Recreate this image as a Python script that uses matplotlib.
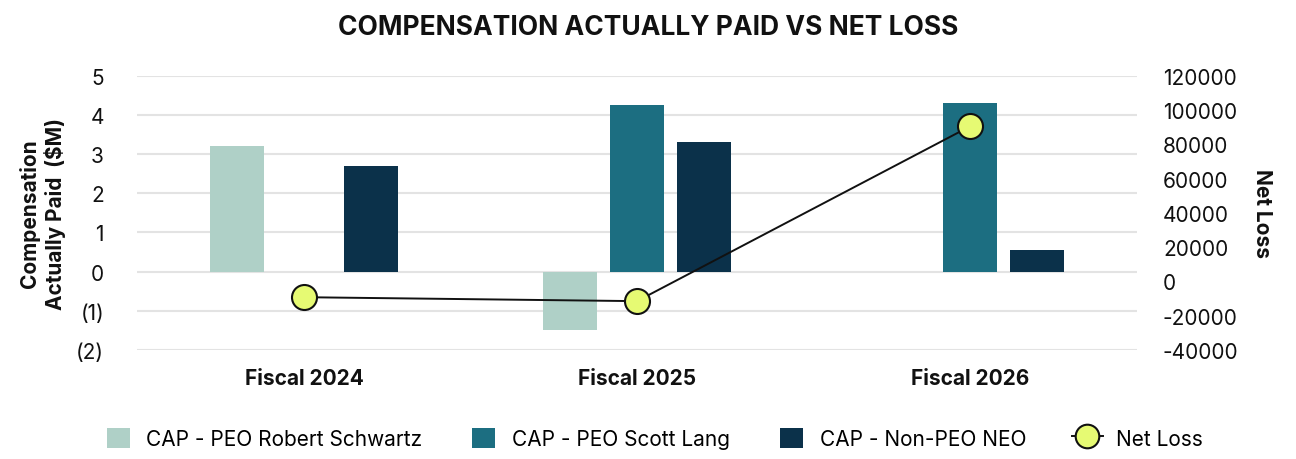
import numpy as np
import matplotlib.pyplot as plt
from matplotlib.ticker import FixedLocator, FuncFormatter
from matplotlib.legend_handler import HandlerLine2D
from matplotlib.lines import Line2D

plt.rcParams['font.family'] = ['Inter', 'DejaVu Sans']
plt.rcParams['axes.unicode_minus'] = False

# data
years = ['Fiscal 2024', 'Fiscal 2025', 'Fiscal 2026']
cap_schwartz = [3.2, -1.5, 0.0]
cap_lang = [0.0, 4.25, 4.3]
cap_non_peo = [2.7, 3.3, 0.55]
net_loss = [-9200, -11500, 90500]

c_schwartz = '#AFD0C7'
c_lang = '#1C6E81'
c_non_peo = '#0B314A'
c_marker = '#E6FA73'


class WideLine(HandlerLine2D):
    # let the line poke out a little past the marker, like the reference legend
    def get_xdata(self, legend, xdescent, ydescent, width, height, fontsize):
        xd, xdm = super().get_xdata(legend, xdescent, ydescent, width, height, fontsize)
        ext = 3
        return np.array([-xdescent - ext, width - xdescent + ext]), xdm


fig = plt.figure(figsize=(12.96, 4.6), dpi=100)
ax = fig.add_axes([0.106, 0.237, 0.771, 0.596])
ax2 = ax.twinx()

x = np.arange(len(years))
w = 0.162
step = 0.2
ax.bar(x - step, cap_schwartz, w, color=c_schwartz, label='CAP - PEO Robert Schwartz', zorder=2)
ax.bar(x, cap_lang, w, color=c_lang, label='CAP - PEO Scott Lang', zorder=2)
ax.bar(x + step, cap_non_peo, w, color=c_non_peo, label='CAP - Non-PEO NEO', zorder=2)

ax2.plot(x, net_loss, color='#111111', lw=1.4, marker='o', markersize=18,
         markerfacecolor=c_marker, markeredgecolor='#111111', markeredgewidth=1.5,
         label='Net Loss', zorder=3)

# left axis
ax.set_xlim(-0.5, 2.5)
ax.set_ylim(-2, 5)
ax.yaxis.set_major_locator(FixedLocator(range(-2, 6)))
ax.yaxis.set_major_formatter(FuncFormatter(lambda v, p: f'({abs(int(v))})' if v < 0 else f'{int(v)}'))
ax.grid(axis='y', color='#E3E3E3', lw=1.5, zorder=0)
ax.set_axisbelow(True)
ax.set_xticks(x)
ax.set_xticklabels(years, fontsize=15, fontweight='bold', color='#111111')
ax.tick_params(axis='x', length=0, pad=13)
ax.tick_params(axis='y', length=0, pad=24, labelsize=15, labelcolor='#111111')
ax.set_ylabel('Compensation\nActually Paid  ($M)', fontsize=15, fontweight='bold',
              color='#111111', linespacing=1.25, labelpad=7)

# right axis
ax2.set_ylim(-40000, 120000)
ax2.yaxis.set_major_locator(FixedLocator(range(-40000, 120001, 20000)))
ax2.tick_params(axis='y', length=0, pad=19, labelsize=15, labelcolor='#111111')
ax2.set_ylabel('Net Loss', fontsize=15, fontweight='bold', rotation=270,
               labelpad=24, color='#111111')

for a in (ax, ax2):
    for s in a.spines.values():
        s.set_visible(False)

fig.text(0.5, 0.94, 'COMPENSATION ACTUALLY PAID VS NET LOSS', ha='center', va='center',
         fontsize=19, fontweight='bold', color='#111111')

h1, l1 = ax.get_legend_handles_labels()
h2, l2 = ax2.get_legend_handles_labels()
legend_line = Line2D([], [], color='#111111', lw=1.4, marker='o', markersize=17,
                     markerfacecolor=c_marker, markeredgecolor='#111111', markeredgewidth=1.5)
fig.legend(h1 + [legend_line], l1 + l2, loc='center', bbox_to_anchor=(0.505, 0.045), ncol=4,
           frameon=False, fontsize=15, handlelength=1.1, handleheight=1.1,
           columnspacing=2.4, handletextpad=0.8,
           handler_map={legend_line: WideLine(numpoints=1)})

fig.savefig('out.png', dpi=100)
